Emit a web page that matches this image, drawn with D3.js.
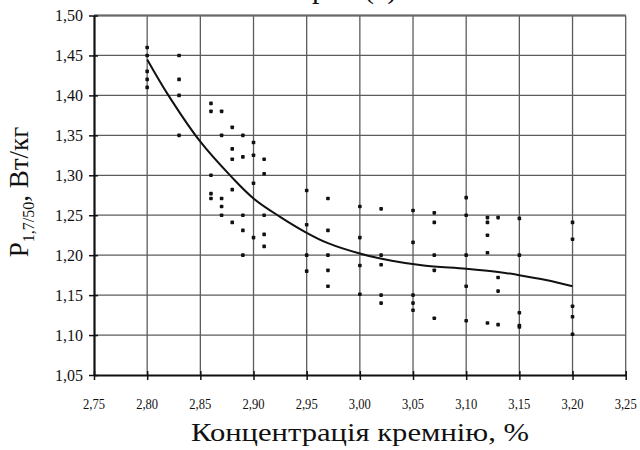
<!DOCTYPE html>
<html>
<head>
<meta charset="utf-8">
<script src="https://cdn.jsdelivr.net/npm/d3@7/dist/d3.min.js"></script>
<style>
  html, body { margin: 0; padding: 0; background: #fff; }
  svg { display: block; }
  svg text { font-family: "Times New Roman", "Liberation Serif", Tinos, Times, serif; fill: #111; }
</style>
</head>
<body>
<svg id="chart" width="640" height="450"></svg>
<script>
// Silicon concentration (%) and specific core loss P1,7/50 (W/kg) measurements
const siliconPct = [
  2.80, 2.80, 2.80, 2.80, 2.80,
  2.83, 2.83, 2.83, 2.83,
  2.86, 2.86, 2.86, 2.86, 2.86,
  2.87, 2.87, 2.87, 2.87, 2.87,
  2.88, 2.88, 2.88, 2.88, 2.88,
  2.89, 2.89, 2.89, 2.89, 2.89,
  2.90, 2.90, 2.90, 2.90,
  2.91, 2.91, 2.91, 2.91, 2.91,
  2.95, 2.95, 2.95, 2.95,
  2.97, 2.97, 2.97, 2.97, 2.97,
  3.00, 3.00, 3.00, 3.00,
  3.02, 3.02, 3.02, 3.02, 3.02,
  3.05, 3.05, 3.05, 3.05, 3.05,
  3.07, 3.07, 3.07, 3.07, 3.07,
  3.10, 3.10, 3.10, 3.10, 3.10,
  3.12, 3.12, 3.12, 3.12, 3.12,
  3.13, 3.13, 3.13, 3.13,
  3.15, 3.15, 3.15, 3.15, 3.15,
  3.20, 3.20, 3.20, 3.20, 3.20
];
const lossValues = [
  1.460, 1.450, 1.430, 1.420, 1.410,
  1.450, 1.420, 1.400, 1.350,
  1.390, 1.380, 1.300, 1.277, 1.271,
  1.380, 1.350, 1.271, 1.261, 1.250,
  1.360, 1.333, 1.320, 1.282, 1.241,
  1.350, 1.323, 1.250, 1.231, 1.200,
  1.341, 1.325, 1.290, 1.222,
  1.320, 1.302, 1.250, 1.226, 1.211,
  1.281, 1.238, 1.200, 1.180,
  1.271, 1.231, 1.200, 1.181, 1.161,
  1.261, 1.222, 1.187, 1.151,
  1.258, 1.200, 1.188, 1.150, 1.140,
  1.256, 1.216, 1.150, 1.140, 1.131,
  1.253, 1.241, 1.200, 1.181, 1.121,
  1.272, 1.250, 1.200, 1.161, 1.118,
  1.247, 1.241, 1.225, 1.203, 1.115,
  1.247, 1.172, 1.155, 1.113,
  1.246, 1.200, 1.128, 1.112, 1.110,
  1.241, 1.220, 1.136, 1.123, 1.101
];

// Trend curve through the measurements
const trendX = [2.80, 2.82, 2.85, 2.88, 2.90, 2.925, 2.95, 2.97, 3.00, 3.03, 3.06, 3.10, 3.13, 3.15, 3.175, 3.20];
const trendY = [1.445, 1.400, 1.342, 1.297, 1.271, 1.248, 1.228, 1.215, 1.202, 1.193, 1.187, 1.183, 1.179, 1.175, 1.169, 1.161];

const xTicks = [2.75, 2.80, 2.85, 2.90, 2.95, 3.00, 3.05, 3.10, 3.15, 3.20, 3.25];
const yTicks = [1.05, 1.10, 1.15, 1.20, 1.25, 1.30, 1.35, 1.40, 1.45, 1.50];

const xTitle = "Концентрація кремнію, %";

const svg = d3.select("#chart");
const plot = { left: 94, right: 625.7, top: 15.5, bottom: 375 };

const x = d3.scaleLinear().domain([2.75, 3.25]).range([plot.left, plot.right]);
const y = d3.scaleLinear().domain([1.05, 1.50]).range([plot.bottom, plot.top]);
const fmt = v => d3.format(".2f")(v).replace(".", ",");

// Heading above the plot, running off the top edge
const head = svg.append("text").attr("y", -2).style("font-size", "30px");
head.append("tspan").attr("x", 312).text("р");
head.append("tspan").attr("x", 364).text("(а)");

// Grid
const grid = svg.append("g").attr("stroke", "#5c5c5c").attr("stroke-width", 1.3);
grid.selectAll("line.v").data(xTicks.slice(1)).join("line")
  .attr("x1", d => x(d)).attr("x2", d => x(d))
  .attr("y1", plot.top).attr("y2", plot.bottom);
grid.selectAll("line.h").data(yTicks.slice(1)).join("line")
  .attr("x1", plot.left).attr("x2", plot.right)
  .attr("y1", d => y(d)).attr("y2", d => y(d));
svg.append("line").attr("x1", plot.left).attr("x2", plot.right)
  .attr("y1", plot.top).attr("y2", plot.top)
  .attr("stroke", "#6a6a6a").attr("stroke-width", 2);

// Axes with crossing ticks
const xAxis = svg.append("g").attr("transform", `translate(0,${plot.bottom})`)
  .call(d3.axisBottom(x).tickValues(xTicks).tickFormat("").tickSizeInner(5).tickSizeOuter(0));
xAxis.select(".domain").attr("stroke", "#111").attr("stroke-width", 2.2);
xAxis.selectAll(".tick line").attr("y1", -4).attr("y2", 5).attr("stroke", "#111").attr("stroke-width", 1.5);

const yAxis = svg.append("g").attr("transform", `translate(${plot.left},0)`)
  .call(d3.axisLeft(y).tickValues(yTicks).tickFormat("").tickSizeInner(5).tickSizeOuter(0));
yAxis.select(".domain").attr("stroke", "#111").attr("stroke-width", 2.2);
yAxis.selectAll(".tick line").attr("x1", -5).attr("x2", 4).attr("stroke", "#111").attr("stroke-width", 1.5);

// Tick labels
svg.append("g").selectAll("text").data(xTicks).join("text")
  .attr("x", d => x(d)).attr("y", 409)
  .attr("text-anchor", "middle")
  .attr("textLength", 22).attr("lengthAdjust", "spacingAndGlyphs")
  .style("font-size", "15px")
  .text(fmt);
svg.append("g").selectAll("text").data(yTicks).join("text")
  .attr("x", 83).attr("y", d => y(d) + 5.5)
  .attr("text-anchor", "end")
  .style("font-size", "16px")
  .text(fmt);

// Axis titles
svg.append("text")
  .attr("x", 360).attr("y", 441)
  .attr("text-anchor", "middle")
  .attr("textLength", 338).attr("lengthAdjust", "spacingAndGlyphs")
  .style("font-size", "26px")
  .text(xTitle);

const yTitle = svg.append("text")
  .attr("transform", "translate(28,192) rotate(-90)")
  .attr("text-anchor", "middle")
  .style("font-size", "27px");
yTitle.append("tspan").text("P");
yTitle.append("tspan").attr("dy", 6).style("font-size", "16px").text("1,7/50");
yTitle.append("tspan").attr("dy", -6).text(", Вт/кг");

// Trend curve
const pts = trendX.map((v, i) => [v, trendY[i]]);
svg.append("path")
  .datum(pts)
  .attr("fill", "none").attr("stroke", "#111").attr("stroke-width", 2)
  .attr("d", d3.line().x(d => x(d[0])).y(d => y(d[1])).curve(d3.curveCatmullRom.alpha(0.5)));

// Measurement markers
const s = 3.6;
svg.append("g").selectAll("rect").data(siliconPct.map((v, i) => [v, lossValues[i]])).join("rect")
  .attr("x", d => x(d[0]) - s / 2).attr("y", d => y(d[1]) - s / 2)
  .attr("width", s).attr("height", s).attr("rx", 0.8)
  .attr("fill", "#111");
</script>
</body>
</html>
